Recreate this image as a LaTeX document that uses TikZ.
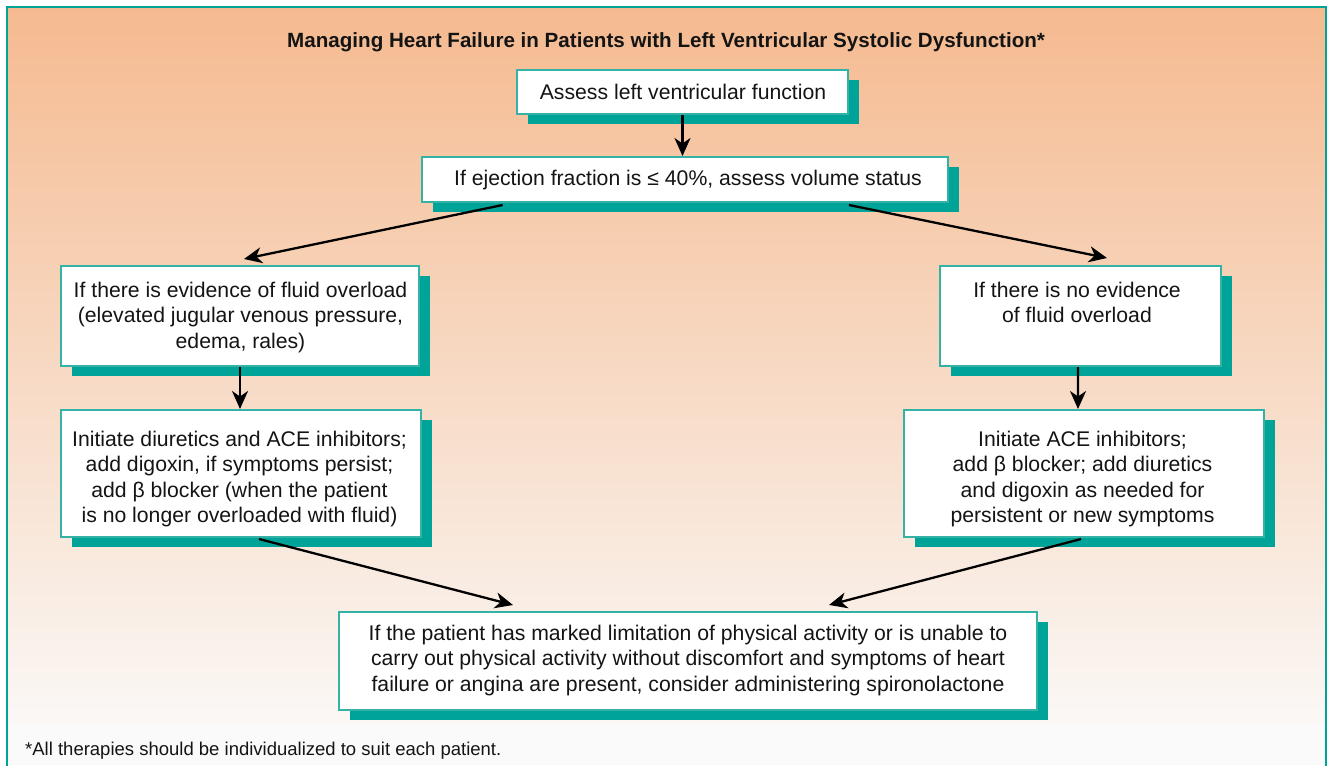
\documentclass[tikz,border=0pt]{standalone}
\usepackage{fontspec}
\setmainfont{Liberation Sans}
\usetikzlibrary{arrows.meta,shadows,calc}
\definecolor{tealshadow}{RGB}{0,163,152}
\definecolor{tealline}{RGB}{52,178,166}
\definecolor{peachtop}{RGB}{245,186,144}
\definecolor{peachmid}{RGB}{248,213,188}
\definecolor{peachbot}{RGB}{250,248,246}
\definecolor{offwhite}{RGB}{250,250,250}
\definecolor{ink}{RGB}{20,20,20}
\newcommand{\bodyfont}{\fontsize{21.2bp}{25.3bp}\selectfont}
\newcommand{\mylines}[1]{\begin{tabular}[t]{@{}c@{}}#1\end{tabular}}
\begin{document}
\begin{tikzpicture}[x=1bp,y=-1bp,
  box/.style={draw=tealline, line width=2bp, fill=white, inner sep=0pt,
    drop shadow={shadow xshift=11bp, shadow yshift=-10bp, fill=tealshadow, opacity=1}},
  txt/.style={anchor=base, inner sep=0pt, font=\bodyfont, text=ink},
  conn/.style={-{Stealth[length=18bp,width=16bp,inset=5.5bp]}, line width=2.3bp, black}]
\useasboundingbox (0,0) rectangle (1327,765);
\fill[white] (0,0) rectangle (1327,765);
\shade[top color=peachtop, middle color=peachmid, bottom color=peachbot] (7,7) rectangle (1326,726);
\fill[offwhite] (7,725) rectangle (1326,765);
\draw[tealshadow, line width=2.5bp] (7,766) -- (7,7) -- (1326,7) -- (1326,766);

\node[anchor=base west, inner sep=0pt, font=\bfseries\fontsize{20.6bp}{25bp}\selectfont, text=ink] (title) at (287,48)
  {Managing Heart Failure in Patients with Left Ventricular Systolic Dysfunction*};

\node[box, minimum width=331bp, minimum height=44bp] (b1) at (682.5,92) {};
\node[box, minimum width=526bp, minimum height=45bp] (b2) at (685,179.5) {};
\node[box, minimum width=358bp, minimum height=100bp] (b3) at (240,316) {};
\node[box, minimum width=360bp, minimum height=127bp] (b4) at (241,473.5) {};
\node[box, minimum width=281bp, minimum height=100bp] (b5) at (1080.5,316) {};
\node[box, minimum width=360bp, minimum height=127bp] (b6) at (1084,473.5) {};
\node[box, minimum width=698bp, minimum height=98bp] (b7) at (688,661) {};

\node[txt] (t1) at (683,99) {Assess left ventricular function};
\node[txt] (t2) at (688,185) {If ejection fraction is ≤ 40\%, assess volume status};
\node[txt] (t3) at (240.5,297.5) {\mylines{If there is evidence of fluid overload\\(elevated jugular venous pressure,\\edema, rales)}};
\node[txt] (t4) at (239.5,446.5) {\mylines{Initiate diuretics and ACE inhibitors;\\add digoxin, if symptoms persist;\\add β blocker (when the patient\\is no longer overloaded with fluid)}};
\node[txt] (t5) at (1077,297.5) {\mylines{If there is no evidence\\of fluid overload}};
\node[txt] (t6) at (1082.5,446.5) {\mylines{Initiate ACE inhibitors;\\add β blocker; add diuretics\\and digoxin as needed for\\persistent or new symptoms}};
\node[txt] (t7) at (688,640.5) {\mylines{If the patient has marked limitation of physical activity or is unable to\\carry out physical activity without discomfort and symptoms of heart\\failure or angina are present, consider administering spironolactone}};

\node[anchor=base west, inner sep=0pt, font=\fontsize{18.5bp}{22bp}\selectfont, text=ink] (foot) at (25,755)
  {*All therapies should be individualized to suit each patient.};

\draw[conn] (b1.south) -- (b1.south |- b2.north);
\draw[conn] ([xshift=81.6bp,yshift=-2bp]b2.south west) -- ([xshift=184bp,yshift=6bp]b3.north west);
\draw[conn] ([xshift=-100bp,yshift=-2bp]b2.south east) -- ([xshift=168bp,yshift=7bp]b5.north west);
\draw[conn] (b3.south) -- (b3.south |- b4.north);
\draw[conn] ([xshift=-2.5bp]b5.south) -- ([xshift=-6bp]b6.north);
\draw[conn] ([xshift=199bp,yshift=-1bp]b4.south west) -- ([xshift=175bp,yshift=6bp]b7.north west);
\draw[conn] ([xshift=178bp,yshift=-1bp]b6.south west) -- ([xshift=-209bp,yshift=6bp]b7.north east);
\end{tikzpicture}
\end{document}
